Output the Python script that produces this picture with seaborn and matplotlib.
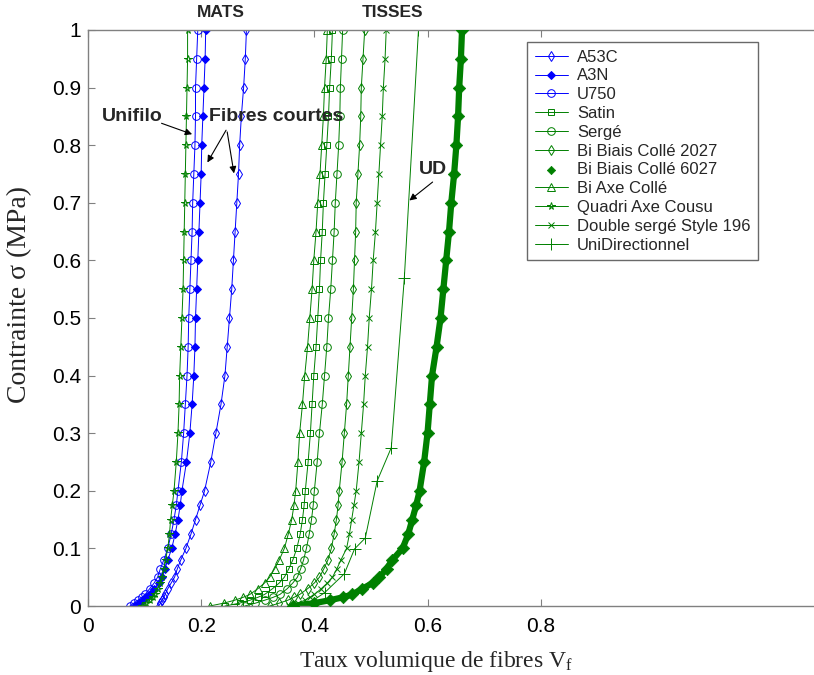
import matplotlib
matplotlib.use('Agg')
import matplotlib.pyplot as plt
import seaborn as sns

sns.set_theme(style='white')
plt.rcParams['font.family'] = ['Liberation Sans', 'DejaVu Sans']
plt.rcParams['mathtext.fontset'] = 'custom'
plt.rcParams['mathtext.rm'] = 'Liberation Serif'
plt.rcParams['mathtext.it'] = 'Liberation Serif:italic'

# ---------------- data ----------------
SIGMA = [0, 0.005, 0.01, 0.015, 0.02, 0.03, 0.04, 0.05, 0.065, 0.08, 0.1, 0.125, 0.15, 0.175, 0.2,
         0.25, 0.3, 0.35, 0.4, 0.45, 0.5, 0.55, 0.6, 0.65, 0.7, 0.75, 0.8, 0.85, 0.9, 0.95, 1.0]

vf_A53C = [0.125, 0.128, 0.131, 0.134, 0.136, 0.141, 0.147, 0.153, 0.158, 0.164, 0.173, 0.182, 0.190, 0.198, 0.206,
           0.217, 0.226, 0.235, 0.242, 0.246, 0.250, 0.254, 0.257, 0.260, 0.263, 0.266, 0.268, 0.271, 0.275, 0.278, 0.280]
vf_A3N = [0.083, 0.090, 0.097, 0.103, 0.109, 0.117, 0.125, 0.131, 0.136, 0.141, 0.148, 0.154, 0.159, 0.163, 0.166,
          0.174, 0.180, 0.184, 0.187, 0.189, 0.190, 0.192, 0.194, 0.196, 0.198, 0.200, 0.201, 0.203, 0.205, 0.207, 0.208]
vf_U750 = [0.074, 0.081, 0.088, 0.095, 0.101, 0.109, 0.117, 0.123, 0.128, 0.134, 0.141, 0.147, 0.152, 0.156, 0.159,
           0.165, 0.169, 0.172, 0.175, 0.177, 0.178, 0.180, 0.182, 0.184, 0.185, 0.187, 0.189, 0.190, 0.190, 0.192, 0.194]
vf_Satin = [0.242, 0.268, 0.286, 0.300, 0.312, 0.326, 0.338, 0.347, 0.355, 0.362, 0.369, 0.375, 0.379, 0.382, 0.384,
            0.389, 0.393, 0.396, 0.399, 0.403, 0.406, 0.409, 0.411, 0.414, 0.416, 0.419, 0.422, 0.425, 0.427, 0.430, 0.432]
vf_Serge = [0.277, 0.296, 0.312, 0.327, 0.339, 0.352, 0.362, 0.370, 0.376, 0.381, 0.386, 0.391, 0.395, 0.398, 0.400,
            0.405, 0.409, 0.414, 0.418, 0.422, 0.425, 0.429, 0.432, 0.435, 0.437, 0.440, 0.443, 0.445, 0.446, 0.448, 0.450]
vf_BB2027 = [0.321, 0.338, 0.353, 0.364, 0.374, 0.388, 0.400, 0.409, 0.417, 0.424, 0.430, 0.435, 0.439, 0.442, 0.444,
             0.449, 0.453, 0.457, 0.460, 0.463, 0.466, 0.469, 0.471, 0.473, 0.474, 0.477, 0.480, 0.482, 0.483, 0.486, 0.489]
vf_BB6027 = [0.362, 0.400, 0.427, 0.450, 0.467, 0.485, 0.503, 0.515, 0.528, 0.538, 0.556, 0.566, 0.573, 0.580, 0.586,
             0.594, 0.600, 0.604, 0.608, 0.616, 0.623, 0.628, 0.633, 0.638, 0.642, 0.647, 0.651, 0.654, 0.656, 0.659, 0.661]
vf_BiAxe = [0.215, 0.240, 0.259, 0.274, 0.286, 0.300, 0.312, 0.321, 0.330, 0.338, 0.347, 0.354, 0.360, 0.364, 0.367,
            0.371, 0.374, 0.379, 0.383, 0.388, 0.392, 0.396, 0.399, 0.403, 0.406, 0.410, 0.413, 0.416, 0.418, 0.421, 0.423]
vf_Quadri = [0.095, 0.103, 0.109, 0.114, 0.118, 0.123, 0.128, 0.131, 0.134, 0.137, 0.141, 0.144, 0.146, 0.149, 0.152,
             0.156, 0.159, 0.161, 0.162, 0.164, 0.166, 0.168, 0.169, 0.170, 0.171, 0.172, 0.173, 0.174, 0.175, 0.176, 0.176]
vf_Double = [0.356, 0.371, 0.383, 0.392, 0.400, 0.412, 0.423, 0.432, 0.440, 0.447, 0.457, 0.462, 0.466, 0.470, 0.474,
             0.479, 0.483, 0.487, 0.490, 0.494, 0.497, 0.501, 0.504, 0.508, 0.511, 0.514, 0.517, 0.520, 0.522, 0.525, 0.527]

SIGMA_UD = [0, 0.023, 0.056, 0.099, 0.118, 0.217, 0.275, 0.569, 1.0]
vf_UD = [0.383, 0.418, 0.453, 0.471, 0.490, 0.511, 0.536, 0.559, 0.584]

LABELS = ['A53C', 'A3N', 'U750', 'Satin', 'Sergé', 'Bi Biais Collé 2027', 'Bi Biais Collé 6027',
          'Bi Axe Collé', 'Quadri Axe Cousu', 'Double sergé Style 196', 'UniDirectionnel']
X_TICKS = [0, 0.2, 0.4, 0.6, 0.8]
X_TICK_LABELS = ['0', '0.2', '0.4', '0.6', '0.8']
Y_TICKS = [0, 0.1, 0.2, 0.3, 0.4, 0.5, 0.6, 0.7, 0.8, 0.9, 1.0]
Y_TICK_LABELS = ['0', '0.1', '0.2', '0.3', '0.4', '0.5', '0.6', '0.7', '0.8', '0.9', '1']

BLUE = '#0000ff'
GREEN = '#008000'

fig = plt.figure(figsize=(8.14, 6.75), dpi=100)
ax = fig.add_axes([0.1081, 0.1022, 1 - 0.1081, 0.9556 - 0.1022])

series = [
    ('A53C', vf_A53C, SIGMA, BLUE, 'd', False, 5.5),
    ('A3N', vf_A3N, SIGMA, BLUE, 'D', True, 4.5),
    ('U750', vf_U750, SIGMA, BLUE, 'o', False, 5.5),
    ('Satin', vf_Satin, SIGMA, GREEN, 's', False, 5.0),
    ('Sergé', vf_Serge, SIGMA, GREEN, 'o', False, 5.5),
    ('Bi Biais Collé 2027', vf_BB2027, SIGMA, GREEN, 'd', False, 5.5),
    ('Bi Axe Collé', vf_BiAxe, SIGMA, GREEN, '^', False, 5.5),
    ('Quadri Axe Cousu', vf_Quadri, SIGMA, GREEN, '*', False, 5.5),
    ('Double sergé Style 196', vf_Double, SIGMA, GREEN, 'x', True, 5.0),
    ('UniDirectionnel', vf_UD, SIGMA_UD, GREEN, '+', True, 8.0),
]

for lab, xs, ys, col, mk, filled, ms in series:
    sns.lineplot(x=xs, y=ys, ax=ax, color=col, marker=mk, markersize=ms,
                 markerfacecolor=(col if filled else 'none'), markeredgecolor=col,
                 markeredgewidth=0.7, linewidth=0.7, sort=False, estimator=None, label=lab)

# Bi Biais Collé 6027: dense filled diamonds forming a thick band
sns.lineplot(x=vf_BB6027, y=SIGMA, ax=ax, color=GREEN, linewidth=4.5, sort=False,
             estimator=None, legend=False, zorder=2.5)
sns.scatterplot(x=vf_BB6027, y=SIGMA, ax=ax, marker='D', color=GREEN, s=40,
                edgecolor=GREEN, linewidth=0.5, label='Bi Biais Collé 6027', zorder=3)

ax.set_xlim(0, 1.283)
ax.set_ylim(0, 1)
ax.set_xticks(X_TICKS)
ax.set_xticklabels(X_TICK_LABELS)
ax.set_yticks(Y_TICKS)
ax.set_yticklabels(Y_TICK_LABELS)
ax.tick_params(axis='both', direction='in', length=5, width=0.8, color='#808080',
               labelsize=15, labelcolor='black')
ax.tick_params(axis='x', top=True, bottom=True, pad=8)
ax.tick_params(axis='y', left=True, right=False, pad=5)
for sp in ['left', 'bottom', 'top']:
    ax.spines[sp].set_color('#808080')
    ax.spines[sp].set_linewidth(1.0)
ax.spines['right'].set_visible(False)

ax.set_xlabel('Taux volumique de fibres V$_\\mathrm{f}$', fontsize=17, family='Liberation Serif')
ax.set_ylabel('Contrainte σ (MPa)', fontsize=20, family='Liberation Serif')
ax.xaxis.set_label_coords(0.48, -0.075)
ax.yaxis.label.set_verticalalignment('center')
ax.yaxis.set_label_coords(-0.094, 0.54)

# legend in reference order
h, l = ax.get_legend_handles_labels()
hm = dict(zip(l, h))
leg = ax.legend([hm[k] for k in LABELS], LABELS, loc='upper left',
                bbox_to_anchor=(527 / 814, 1 - 42 / 675), bbox_transform=fig.transFigure,
                borderaxespad=0, frameon=True, fancybox=False, edgecolor='#444444', fontsize=12,
                labelspacing=0.23, handlelength=2.0, handletextpad=0.55, borderpad=0.45)
leg.get_frame().set_linewidth(1.0)
leg.legend_handles[LABELS.index('Bi Biais Collé 6027')].set_sizes([18])

# annotations
ax.text(0.235, 1.031, 'MATS', ha='center', va='center', fontsize=12.5, fontweight='bold')
ax.text(0.539, 1.031, 'TISSES', ha='center', va='center', fontsize=12.5, fontweight='bold')
ax.text(0.025, 0.849, 'Unifilo', ha='left', va='center', fontsize=14, fontweight='bold')
ax.text(0.214, 0.849, 'Fibres courtes', ha='left', va='center', fontsize=14, fontweight='bold')
ax.text(0.585, 0.757, 'UD', ha='left', va='center', fontsize=14, fontweight='bold')
arw = dict(arrowstyle='-|>', color='black', lw=0.8, mutation_scale=10, shrinkA=0, shrinkB=0)
ax.annotate('', xy=(0.184, 0.819), xytext=(0.130, 0.838), arrowprops=arw)
ax.annotate('', xy=(0.211, 0.770), xytext=(0.244, 0.826), arrowprops=arw)
ax.annotate('', xy=(0.258, 0.751), xytext=(0.246, 0.823), arrowprops=arw)
ax.annotate('', xy=(0.568, 0.704), xytext=(0.609, 0.736), arrowprops=arw)

fig.savefig('out.png', dpi=100)
